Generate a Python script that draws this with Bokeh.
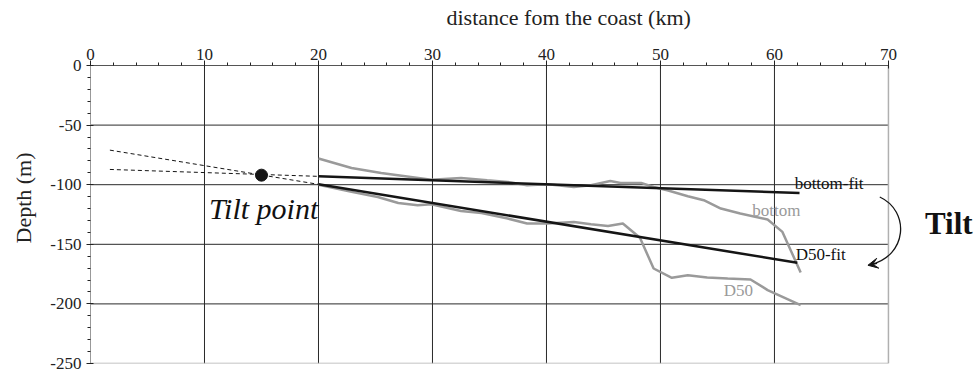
from bokeh.plotting import figure
from bokeh.models import Range1d, FixedTicker, Label, Arrow, VeeHead, Title
from bokeh.embed import file_html
from bokeh.resources import INLINE

# ---- data ----
bottom_x = [20.0, 22.9, 25.5, 28.1, 29.9, 32.5, 34.8, 36.6, 38.3, 40.1, 42.4, 43.9,
            45.6, 46.5, 48.3, 49.4, 50.6, 52.4, 53.8, 55.3, 57.0, 59.4, 60.7, 62.3]
bottom_y = [-78, -86, -90.2, -93.5, -95.8, -94.4, -96.3, -97.7, -100.5, -99.7, -101.9, -100.5,
            -96.9, -98.5, -98.5, -101.9, -104.7, -109.7, -113, -120, -124.2, -129.2, -139.6, -173.6]

d50_x = [20.0, 22.9, 25.2, 27.0, 28.7, 29.9, 32.5, 34.3, 36.6, 38.3, 40.1, 42.4,
         43.9, 45.4, 46.7, 48.2, 49.4, 51.0, 52.4, 54.1, 55.9, 57.9, 59.4, 62.3]
d50_y = [-100, -106, -110.3, -115.3, -117.3, -116.4, -122, -123.7, -128.4, -132.6, -132.6, -131.2,
         -133.2, -134.6, -132.6, -144.5, -170.3, -178.1, -175.9, -177.8, -178.7, -179.5, -188.4, -201]

bottom_fit_x = [20.0, 62.2]
bottom_fit_y = [-93.0, -107.0]
d50_fit_x = [20.0, 62.0]
d50_fit_y = [-99.7, -165.5]

bottom_ext_x = [1.7, 20.0]
bottom_ext_y = [-87.2, -93.0]
d50_ext_x = [1.7, 20.0]
d50_ext_y = [-71.0, -99.7]

tilt_x = [15.0]
tilt_y = [-92.0]

x_major = [0, 10, 20, 30, 40, 50, 60, 70]
x_minor = list(range(0, 71, 2))
y_major = [0, -50, -100, -150, -200, -250]
y_labels = ["0", "-50", "-100", "-150", "-200", "-250"]
y_minor = list(range(-250, 1, 10))
x_grid = [10, 20, 30, 40, 50, 60]
y_grid = [-50, -100, -150, -200]

SERIF = "Liberation Serif"
GRAY = "#9a9a9a"
DARK = "#151515"

p = figure(width=978, height=376, x_range=Range1d(0, 77.9), y_range=Range1d(-250, 0),
           x_axis_location="above", output_backend="svg", toolbar_location=None,
           min_border_left=89, min_border_right=0, min_border_top=65, min_border_bottom=13)
p.outline_line_color = None
p.grid.visible = False
p.background_fill_color = "white"
p.border_fill_color = "white"

# titles (axis names) placed as Title panels
p.title.text = "distance fom the coast (km)"
p.title.align = "left"
p.title.offset = 356
p.title.vertical_align = "top"
p.title.text_font = SERIF
p.title.text_font_size = "22px"
p.title.text_font_style = "normal"
p.title.text_color = "#222222"
p.title.standoff = 0

ytitle = Title(text="Depth (m)", align="left", offset=120, vertical_align="top",
               text_font=SERIF, text_font_size="22px", text_font_style="normal",
               text_color="#222222", standoff=20)
p.add_layout(ytitle, "left")

# grid
p.segment(x0=x_grid, y0=[-250] * len(x_grid), x1=x_grid, y1=[0] * len(x_grid),
          line_color="#2a2a2a", line_width=1)
p.segment(x0=[0] * len(y_grid), y0=y_grid, x1=[70] * len(y_grid), y1=y_grid,
          line_color="#2a2a2a", line_width=1)
# frame borders right / bottom
p.segment(x0=[70, 0], y0=[-250, -250], x1=[70, 70], y1=[0, -250],
          line_color="#b0b0b0", line_width=1.5)

# axes
xa = p.xaxis[0]
xa.ticker = FixedTicker(ticks=x_major, minor_ticks=x_minor)
xa.bounds = (0, 70)
xa.axis_line_color = "#555555"
xa.major_tick_line_color = "#222222"
xa.minor_tick_line_color = "#222222"
xa.major_tick_out = 5
xa.major_tick_in = 3
xa.minor_tick_out = 3
xa.minor_tick_in = 0
xa.major_label_standoff = 1
xa.major_label_text_font = SERIF
xa.major_label_text_font_size = "17px"
xa.major_label_text_color = "#222222"
# blank spacer label to lift the title panel upward
xa.axis_label = " "
xa.axis_label_text_font_size = "4px"
xa.axis_label_standoff = 6

ya = p.yaxis[0]
ya.ticker = FixedTicker(ticks=y_major, minor_ticks=y_minor)
ya.major_label_overrides = {t: s for t, s in zip(y_major, y_labels)}
ya.axis_line_color = "#999999"
ya.major_tick_line_color = "#222222"
ya.minor_tick_line_color = "#222222"
ya.major_tick_out = 4
ya.major_tick_in = 3
ya.minor_tick_out = 3
ya.minor_tick_in = 0
ya.major_label_standoff = 5
ya.major_label_text_font = SERIF
ya.major_label_text_font_size = "17px"
ya.major_label_text_color = "#222222"

# dashed extrapolations
p.line(bottom_ext_x, bottom_ext_y, line_color=DARK, line_width=1, line_dash="4 3")
p.line(d50_ext_x, d50_ext_y, line_color=DARK, line_width=1, line_dash="4 3")

# data series
p.line(bottom_x, bottom_y, line_color=GRAY, line_width=2.5)
p.line(d50_x, d50_y, line_color=GRAY, line_width=2.5)
p.line(bottom_fit_x, bottom_fit_y, line_color=DARK, line_width=2.5)
p.line(d50_fit_x, d50_fit_y, line_color=DARK, line_width=2.5)

p.scatter(tilt_x, tilt_y, size=12, color=DARK)

# curved tilt arrow
p.bezier(x0=[69.24], y0=[-110.3], x1=[68.35], y1=[-167.3],
         cx0=[71.9], cy0=[-122.0], cx1=[71.7], cy1=[-160.0],
         line_color=DARK, line_width=1.3)
p.add_layout(Arrow(x_start=69.0, y_start=-166.0, x_end=68.2, y_end=-167.6,
                   line_color=DARK, line_width=1.3,
                   end=VeeHead(size=10, fill_color=DARK, line_color=DARK)))

# text labels
def lab(x, y, text, size, color="#111111", style="normal", align="left",
        baseline="alphabetic", dy=4):
    p.add_layout(Label(x=x, y=y, y_offset=dy, text=text, text_font=SERIF,
                       text_font_size=size, text_color=color, text_font_style=style,
                       text_align=align, text_baseline=baseline))

lab(10.4, -124.0, "Tilt point", "30px", style="italic", dy=5)
lab(61.77, -102.2, "bottom-fit", "17px")
lab(58.06, -124.8, "bottom", "17px", color=GRAY)
lab(61.86, -161.9, "D50-fit", "17px")
lab(55.55, -191.8, "D50", "17px", color=GRAY)
lab(73.2, -139.6, "Tilt", "31px", style="bold", dy=8)

open("out.html", "w").write(file_html(p, INLINE))
